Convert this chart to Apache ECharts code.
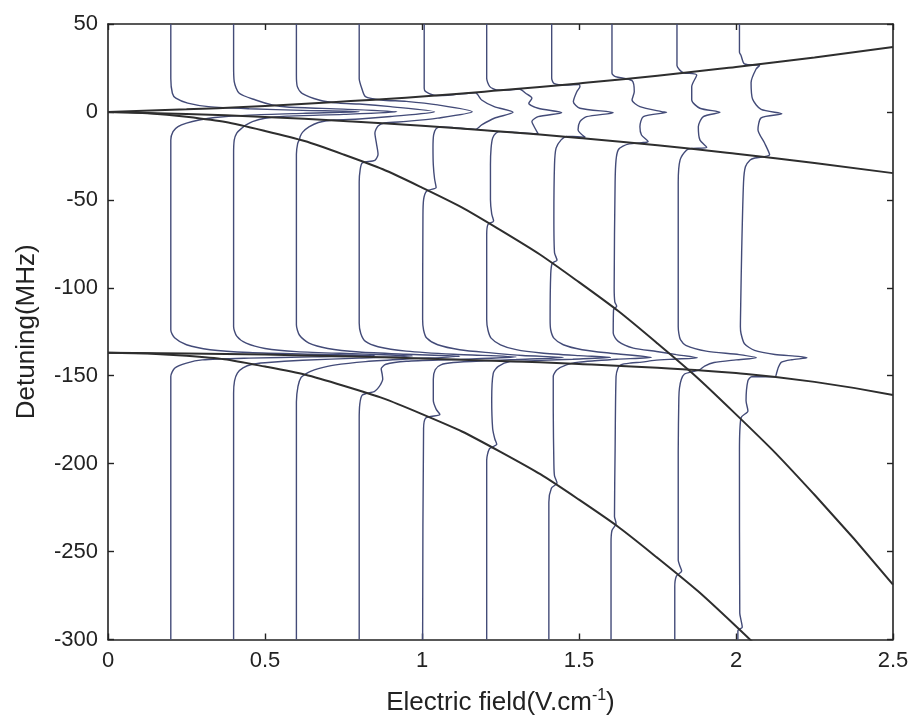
<!DOCTYPE html>
<html><head><meta charset="utf-8">
<script src="https://cdn.jsdelivr.net/npm/echarts@6.0.0/dist/echarts.min.js"></script>
<style>html,body{margin:0;padding:0;background:#fff}#c{width:914px;height:721px}</style>
</head><body><div id="c"></div>
<script>
// Stark levels read on a field grid (V/cm) -> detuning (MHz)
const fieldGrid  = [0, 0.25, 0.5, 0.75, 1, 1.25, 1.5, 1.75, 2, 2.25, 2.5];
const levelUpper = [0, 1.5, 3.4, 5.9, 8.8, 12.3, 16.2, 20.6, 25.6, 31.0, 36.9];
const levelLower = [0, -1.2, -2.9, -5.1, -7.8, -11.1, -14.8, -19.0, -23.8, -29.1, -34.8];
const levelSteep = [0, -2.7, -10.8, -24.2, -43, -67.2, -96.8, -131.7, -172, -217.7, -268.8];
const levelFlat  = [-137, -137.4, -138, -139, -140.2, -141.6, -143.3, -145.5, -148.5, -153.5, -161];
const levelDeep  = [-137, -138.7, -144.8, -155.7, -171.8, -193.3, -220.5, -253.6, -292.5, -337.8, -389];

// Spectra traces, each read as [field, detuning] points
const trace02 = [[0.2,50],[0.2,19],[0.205,10.6],[0.216,7.8],[0.254,5.0],[0.32,3.0],[0.45,1.8],[0.62,0.9],[0.8,0.1],[0.62,-0.8],[0.45,-1.8],[0.34,-3.2],[0.29,-4.6],[0.25,-6.4],[0.223,-8.4],[0.207,-11.2],[0.2,-16],
  [0.2,-124],[0.213,-128.6],[0.25,-132.4],[0.325,-135.2],[0.45,-136.8],[0.65,-137.8],[0.85,-138.6],[0.65,-139.3],[0.45,-140],[0.3,-141],[0.25,-142.8],[0.213,-145.6],[0.2,-150.4],[0.2,-300]];
const trace04 = [[0.4,50],[0.4,26.7],[0.402,17.2],[0.418,10.6],[0.47,6.8],[0.523,4.0],[0.57,2.8],[0.75,1.6],[0.92,0.1],[0.75,-1.4],[0.57,-2.4],[0.5,-3.6],[0.46,-5.5],[0.44,-7.4],[0.425,-9.4],[0.41,-12],[0.402,-16],[0.4,-24],
  [0.4,-122],[0.41,-127.5],[0.44,-131.5],[0.5,-134.5],[0.6,-136.3],[0.8,-137.6],[0.97,-138.8],[0.8,-140],[0.62,-141.2],[0.5,-142.6],[0.46,-143.5],[0.43,-145.5],[0.412,-148.5],[0.403,-153],[0.4,-160],[0.4,-300]];
const trace06 = [[0.6,50],[0.6,21],[0.603,14.4],[0.618,10.6],[0.672,6.8],[0.735,5.0],[0.8,4.5],[0.9,3.0],[1.04,0.1],[0.9,-2.6],[0.8,-4.0],[0.72,-4.6],[0.67,-6],[0.64,-8.5],[0.62,-11.5],[0.612,-14],[0.61,-15.5],[0.604,-18],[0.6,-24],
  [0.6,-121],[0.61,-127],[0.64,-131.5],[0.7,-134.5],[0.8,-136.5],[0.95,-137.8],[1.12,-139],[0.95,-140.5],[0.82,-142],[0.72,-144],[0.67,-146],[0.645,-147.5],[0.63,-149],[0.615,-151],[0.605,-156],[0.6,-165],[0.6,-300]];
const trace08 = [[0.8,50],[0.8,19],[0.808,13.5],[0.82,8.7],[0.87,6.8],[0.95,6.0],[1.05,4.0],[1.16,0.1],[1.05,-3.5],[0.95,-5.4],[0.88,-6.3],[0.86,-8],[0.85,-12],[0.855,-18],[0.86,-24],[0.85,-27.5],[0.81,-29],[0.803,-33],[0.8,-40],
  [0.8,-120],[0.805,-126],[0.82,-130.5],[0.86,-133.5],[0.95,-136],[1.1,-137.8],[1.3,-139.3],[1.1,-140.8],[0.95,-141.8],[0.885,-143.5],[0.87,-146],[0.873,-149],[0.875,-152],[0.868,-155],[0.858,-157.5],[0.848,-159],[0.81,-161],[0.802,-166],[0.8,-175],[0.8,-300]];
const trace10 = [[1.007,50],[1.007,13.5],[1.012,11.5],[1.045,9.3],[1.1,9.8],[1.17,10.9],[1.19,6.8],[1.23,3.0],[1.29,-0.2],[1.23,-3.6],[1.19,-7.4],[1.17,-9.9],[1.1,-8.9],[1.06,-8.5],[1.045,-9.5],[1.037,-13.1],[1.035,-20.6],[1.036,-30],[1.04,-38],[1.045,-43],[1.015,-45],[1.005,-50],[1.003,-60],
  [1.002,-118],[1.005,-124],[1.015,-128.6],[1.05,-132.4],[1.12,-135.2],[1.22,-137],[1.32,-138.5],[1.45,-139.6],[1.3,-140.8],[1.2,-141.5],[1.1,-142.5],[1.06,-143.8],[1.042,-146.6],[1.036,-152],[1.036,-164],[1.045,-169],[1.057,-172],[1.012,-174],[1.005,-180],[1.002,-300]];
const trace12 = [[1.206,50],[1.206,19.1],[1.216,14.4],[1.237,12.5],[1.27,12.4],[1.31,13.0],[1.33,10.6],[1.35,7.8],[1.34,4.9],[1.37,2.1],[1.445,-0.4],[1.37,-2.7],[1.35,-5.5],[1.36,-9.3],[1.37,-12.5],[1.3,-11.7],[1.25,-11.2],[1.235,-12.1],[1.225,-14.9],[1.22,-20.6],[1.218,-30],[1.218,-50],[1.222,-58],[1.228,-62],[1.21,-64],[1.206,-70],
  [1.206,-118],[1.21,-124],[1.22,-128.6],[1.25,-132.4],[1.3,-135.2],[1.38,-137.1],[1.5,-138.6],[1.6,-139.6],[1.48,-140.6],[1.38,-141.3],[1.3,-141.9],[1.28,-142],[1.243,-144.7],[1.227,-148.5],[1.222,-163.6],[1.225,-180],[1.232,-186],[1.238,-189],[1.215,-191.5],[1.206,-198],[1.206,-300]];
const trace14 = [[1.413,50],[1.413,19.3],[1.42,16.3],[1.457,15.3],[1.5,15.6],[1.503,14.4],[1.493,11.5],[1.482,5.8],[1.503,2.1],[1.609,-0.4],[1.524,-2.7],[1.503,-5.5],[1.497,-10.2],[1.52,-14.5],[1.48,-13.9],[1.46,-14.0],[1.443,-15.9],[1.427,-20.6],[1.422,-30],[1.42,-60],[1.422,-80],[1.43,-84.3],[1.415,-86],[1.41,-92],
  [1.408,-118],[1.41,-124],[1.42,-128.6],[1.45,-132.4],[1.51,-135.2],[1.6,-137.2],[1.73,-139.6],[1.62,-140.6],[1.55,-141.5],[1.5,-142.3],[1.46,-143.8],[1.43,-146.6],[1.418,-150.4],[1.418,-170],[1.42,-200],[1.422,-207],[1.43,-211],[1.412,-214],[1.404,-222],[1.404,-300]];
const trace16 = [[1.605,50],[1.605,22],[1.616,20.1],[1.669,17.8],[1.676,11.5],[1.669,6.8],[1.694,3.0],[1.763,0.2],[1.779,-0.2],[1.705,-2.7],[1.694,-8.4],[1.699,-13.1],[1.72,-16.9],[1.7,-17.5],[1.66,-18.2],[1.64,-19.5],[1.625,-21.6],[1.618,-27.3],[1.615,-40],[1.612,-100],[1.614,-108],[1.62,-110.5],[1.61,-112.5],
  [1.609,-125.7],[1.625,-130.5],[1.673,-134.3],[1.747,-136.2],[1.81,-138],[1.877,-139.8],[1.8,-140.6],[1.74,-141.3],[1.7,-142.3],[1.665,-142.8],[1.633,-143.8],[1.624,-145.7],[1.618,-150.4],[1.615,-192],[1.613,-230],[1.618,-234],[1.605,-238],[1.602,-245],[1.602,-300]];
const trace18 = [[1.812,50],[1.812,26.4],[1.82,24],[1.832,22.3],[1.875,21.0],[1.859,14.4],[1.859,6.8],[1.885,2.1],[1.949,-0.2],[1.896,-2.7],[1.88,-8.4],[1.885,-15.9],[1.907,-20.1],[1.86,-20.8],[1.843,-21.6],[1.822,-27.3],[1.816,-40],
  [1.816,-122],[1.818,-126],[1.823,-129.5],[1.84,-132.7],[1.905,-136],[2.01,-138],[2.065,-139.8],[2.0,-141],[1.93,-142.5],[1.9,-144.5],[1.885,-146.5],[1.86,-147.8],[1.836,-149],[1.826,-152],[1.82,-157],[1.818,-162.5],[1.816,-193],[1.816,-255],[1.822,-258.5],[1.827,-261],[1.81,-264],[1.805,-270],[1.805,-300]];
const trace20 = [[2.011,50],[2.011,34],[2.016,32.1],[2.027,27.3],[2.075,26.4],[2.064,24.4],[2.048,16.8],[2.053,7.2],[2.08,1.4],[2.146,-1.1],[2.08,-3.4],[2.07,-10.1],[2.091,-17.7],[2.107,-24.4],[2.06,-26.2],[2.045,-27.3],[2.03,-31.2],[2.024,-40],[2.018,-80],[2.015,-110],
  [2.014,-122.2],[2.016,-126],[2.027,-131.8],[2.059,-135.6],[2.124,-137.9],[2.199,-139],[2.226,-139.8],[2.178,-140.9],[2.145,-142.3],[2.135,-145.2],[2.13,-148],[2.124,-150.6],[2.05,-150.6],[2.038,-152.8],[2.032,-164.3],[2.038,-170],[2.016,-173.9],[2.011,-193],[2.012,-285],[2.016,-289],[2.02,-293],[2.006,-295],[2.006,-300]];

const xTicks = [0, 0.5, 1, 1.5, 2, 2.5];
const yTicks = [-300, -250, -200, -150, -100, -50, 0, 50];

const traces = [trace02, trace04, trace06, trace08, trace10, trace12, trace14, trace16, trace18, trace20];
const levels = [levelUpper, levelLower, levelSteep, levelFlat, levelDeep];

const FONT = "'Liberation Sans', Arial, sans-serif";
const INK = '#222';
const TRACE = '#434b78';
const LINE = '#2e2e2e';

const chart = echarts.init(document.getElementById('c'), null, {renderer: 'canvas'});

const tickStyle = {inside: true, length: 6, lineStyle: {color: INK, width: 1.4}};
const lineStyleAxis = {show: true, onZero: false, lineStyle: {color: INK, width: 1.6}};

const series = [];
traces.forEach((t, i) => {
  series.push({
    type: 'line', name: 'trace' + i, data: t, showSymbol: false, symbol: 'none',
    smooth: 0.25, lineStyle: {color: TRACE, width: 1.4}, z: 2, silent: true, clip: true
  });
});
levels.forEach((lv, i) => {
  series.push({
    type: 'line', name: 'level' + i, data: fieldGrid.map((e, k) => [e, lv[k]]),
    showSymbol: false, symbol: 'none', smooth: true,
    lineStyle: {color: LINE, width: 2}, z: 3, silent: true, clip: true
  });
});

chart.setOption({
  animation: false,
  backgroundColor: '#fff',
  grid: {left: 108, right: 21, top: 24, bottom: 81, containLabel: false},
  xAxis: [{
    type: 'value', min: xTicks[0], max: xTicks[xTicks.length - 1], interval: 0.5, position: 'bottom',
    axisLine: lineStyleAxis, axisTick: tickStyle, splitLine: {show: false},
    axisLabel: {color: INK, fontSize: 22, fontFamily: FONT, margin: 10},
    name: '{n|Electric field(V.cm}{s|-1}{n|)}', nameLocation: 'middle', nameGap: 48,
    nameTextStyle: {color: INK, fontFamily: FONT, rich: {
      n: {fontSize: 26, fontFamily: FONT, color: INK},
      s: {fontSize: 16, fontFamily: FONT, color: INK, padding: [0, 0, 15, 0]}
    }}
  }, {
    type: 'value', min: xTicks[0], max: xTicks[xTicks.length - 1], interval: 0.5, position: 'top',
    axisLine: lineStyleAxis, axisTick: tickStyle, splitLine: {show: false}, axisLabel: {show: false}
  }],
  yAxis: [{
    type: 'value', min: yTicks[0], max: yTicks[yTicks.length - 1], interval: 50, position: 'left',
    axisLine: lineStyleAxis, axisTick: tickStyle, splitLine: {show: false},
    axisLabel: {color: INK, fontSize: 22, fontFamily: FONT, margin: 10},
    name: 'Detuning(MHz)', nameLocation: 'middle', nameGap: 68,
    nameTextStyle: {color: INK, fontSize: 26, fontFamily: FONT}
  }, {
    type: 'value', min: yTicks[0], max: yTicks[yTicks.length - 1], interval: 50, position: 'right',
    axisLine: lineStyleAxis, axisTick: tickStyle, splitLine: {show: false}, axisLabel: {show: false}
  }],
  series: series
});
</script></body></html>
